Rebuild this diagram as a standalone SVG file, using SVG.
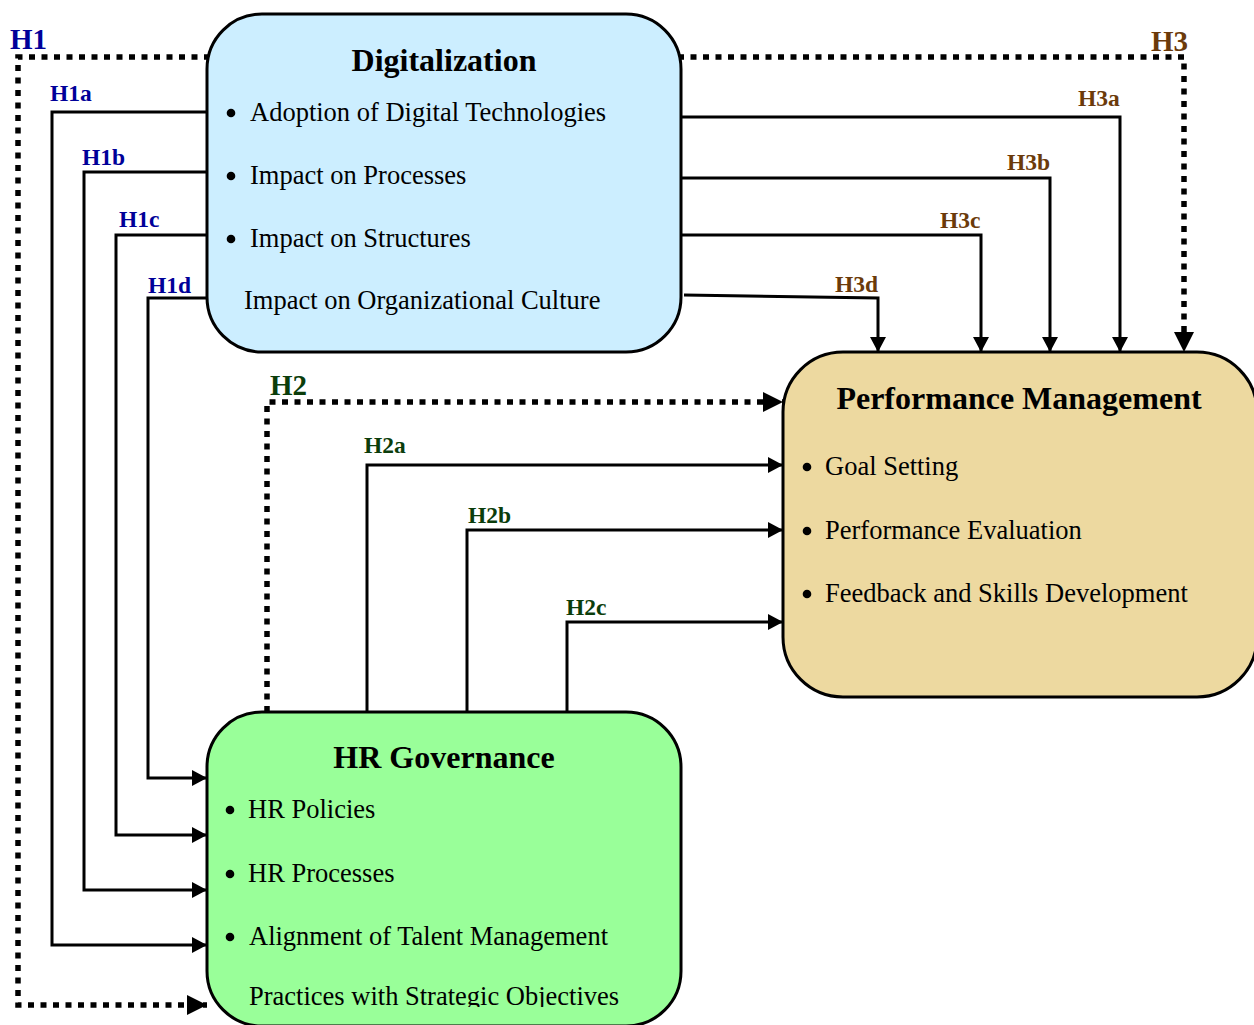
<svg xmlns="http://www.w3.org/2000/svg" width="1254" height="1025" viewBox="0 0 1254 1025">
<defs>
<style>
.box{stroke:#000;stroke-width:3}
.t{font-family:"Liberation Serif","Times New Roman",serif;fill:#000}
.title{font-size:32px;font-weight:bold;text-anchor:middle}
.item{font-size:26.5px}
.bul{fill:#000}
.lbl{font-family:"Liberation Serif","Times New Roman",serif;font-weight:bold}
.s{font-size:23.5px}
.m{font-size:29px}
.blue{fill:#000099}
.green{fill:#0b3d0b}
.brown{fill:#6b3a0a}
.c{fill:none;stroke:#000;stroke-width:3;marker-end:url(#a)}
.d{fill:none;stroke:#000;stroke-width:5.5;stroke-dasharray:6 6.5;marker-end:url(#ad)}
</style>
<marker id="a" markerUnits="userSpaceOnUse" markerWidth="16" markerHeight="16" refX="15" refY="8" orient="auto" overflow="visible">
<path d="M0,0 L15,8 L0,16 z" fill="#000"/>
</marker>
<marker id="ad" markerUnits="userSpaceOnUse" markerWidth="21" markerHeight="21" refX="20" refY="10" orient="auto" overflow="visible">
<path d="M0,0 L20,10 L0,20 z" fill="#000"/>
</marker>
<clipPath id="clipLast"><rect x="200" y="970" width="500" height="37"/></clipPath>
</defs>
<rect width="1254" height="1025" fill="#fff"/>

<g id="connectors">
<path class="d" d="M210,57 H18 V1005 H207"/>
<path class="c" d="M207,112 H52 V945 H207"/>
<path class="c" d="M207,172 H84 V890 H207"/>
<path class="c" d="M207,235 H116 V835 H207"/>
<path class="c" d="M207,298 H148 V778 H207"/>
<path class="d" d="M267,712 V402 H783"/>
<path class="c" d="M367,712 V465 H783"/>
<path class="c" d="M467,712 V530 H783"/>
<path class="c" d="M567,712 V622 H783"/>
<path class="d" d="M678,57 H1184 V352"/>
<path class="c" d="M681,117 H1120 V352"/>
<path class="c" d="M681,178 H1050 V352"/>
<path class="c" d="M681,235 H981 V352"/>
<path class="c" d="M684,295 L878,298 V352"/>
</g>

<g id="labels">
<text class="lbl m blue" x="10" y="49">H1</text>
<text class="lbl s blue" x="50" y="101">H1a</text>
<text class="lbl s blue" x="82" y="165">H1b</text>
<text class="lbl s blue" x="119" y="227">H1c</text>
<text class="lbl s blue" x="148" y="293">H1d</text>
<text class="lbl m green" x="270" y="395">H2</text>
<text class="lbl s green" x="364" y="453">H2a</text>
<text class="lbl s green" x="468" y="523">H2b</text>
<text class="lbl s green" x="566" y="615">H2c</text>
<text class="lbl m brown" x="1151" y="51">H3</text>
<text class="lbl s brown" x="1078" y="106">H3a</text>
<text class="lbl s brown" x="1007" y="170">H3b</text>
<text class="lbl s brown" x="940" y="228">H3c</text>
<text class="lbl s brown" x="835" y="292">H3d</text>
</g>

<g id="digitalization">
<rect class="box" x="207" y="14" width="474" height="338" rx="55" ry="55" fill="#cceeff"/>
<text class="t title" x="444" y="71">Digitalization</text>
<circle class="bul" cx="231" cy="113" r="4.3"/>
<text class="t item" x="250" y="121">Adoption of Digital Technologies</text>
<circle class="bul" cx="231" cy="176" r="4.3"/>
<text class="t item" x="250" y="184">Impact on Processes</text>
<circle class="bul" cx="231" cy="239" r="4.3"/>
<text class="t item" x="250" y="247">Impact on Structures</text>
<text class="t item" x="244" y="309">Impact on Organizational Culture</text>
</g>

<g id="performance-management">
<rect class="box" x="783" y="352" width="474" height="345" rx="60" ry="60" fill="#edd9a0"/>
<text class="t title" x="1019" y="409">Performance Management</text>
<circle class="bul" cx="807" cy="467" r="4.3"/>
<text class="t item" x="825" y="475">Goal Setting</text>
<circle class="bul" cx="807" cy="531" r="4.3"/>
<text class="t item" x="825" y="539">Performance Evaluation</text>
<circle class="bul" cx="807" cy="594" r="4.3"/>
<text class="t item" x="825" y="602">Feedback and Skills Development</text>
</g>

<g id="hr-governance">
<rect class="box" x="207" y="712" width="474" height="314" rx="55" ry="55" fill="#99ff99"/>
<text class="t title" x="444" y="768">HR Governance</text>
<circle class="bul" cx="230" cy="810" r="4.3"/>
<text class="t item" x="248" y="818">HR Policies</text>
<circle class="bul" cx="230" cy="874" r="4.3"/>
<text class="t item" x="248" y="882">HR Processes</text>
<circle class="bul" cx="230" cy="937" r="4.3"/>
<text class="t item" x="249" y="945">Alignment of Talent Management</text>
<text class="t item" x="249" y="1005" clip-path="url(#clipLast)">Practices with Strategic Objectives</text>
</g>
</svg>
